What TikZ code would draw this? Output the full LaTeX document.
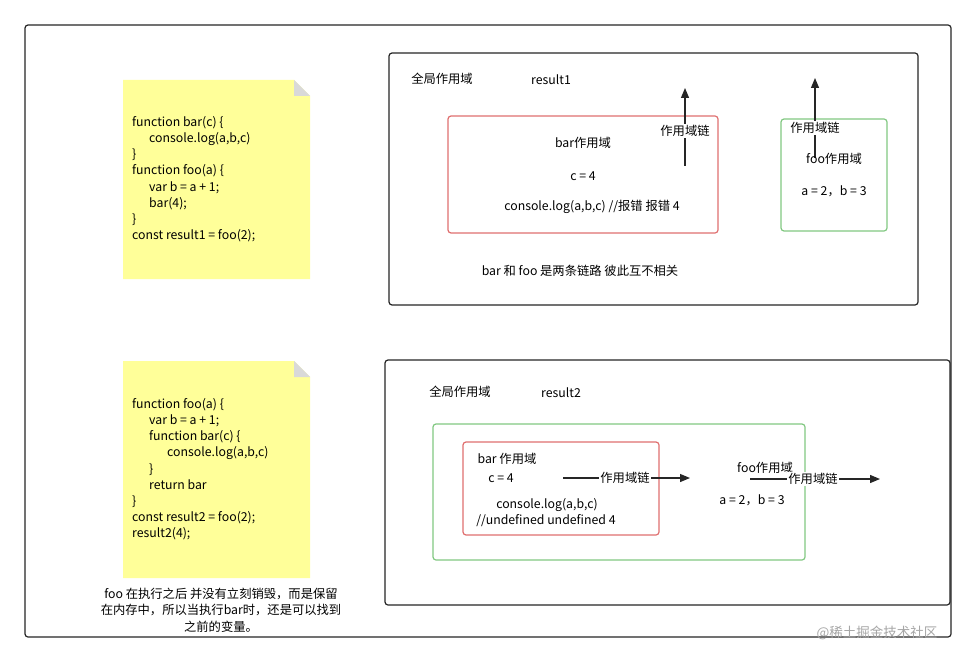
\documentclass[tikz,border=0pt]{standalone}
\usepackage{fontspec}
\setmainfont{Noto Sans CJK SC}
\usetikzlibrary{arrows.meta}
\definecolor{noteY}{HTML}{FFFF99}
\definecolor{redB}{HTML}{E07070}
\definecolor{greenB}{HTML}{82C882}
\begin{document}
\begin{tikzpicture}[x=1pt,y=-1pt,
  txt/.style={inner sep=1pt,font=\fontsize{12.3}{14}\selectfont},
  frame/.style={draw=black!85,line width=1.2pt,rounded corners=3pt},
  redbox/.style={draw=redB,line width=1.2pt,rounded corners=3pt},
  greenbox/.style={draw=greenB,line width=1.2pt,rounded corners=3pt},
  arr/.style={-{Triangle[length=10pt,width=8pt]},line width=1.2pt,black!85},
  lab/.style={txt,fill=white,inner sep=1pt},
  code/.style={txt,align=left,anchor=north west,font=\fontsize{12.3}{16.2}\selectfont}]
\useasboundingbox (0,0) rectangle (976,663);
\fill[white] (0,0) rectangle (976,663);
\draw[frame] (25,25) rectangle (951,637);
% note 1
\fill[noteY] (123,80) -- (294,80) -- (310,96) -- (310,279) -- (123,279) -- cycle;
\fill[black!15] (294,80) -- (294,96) -- (310,96) -- cycle;
\node[code] (c1) at (131,115) {function bar(c) \{\\\hspace*{17pt}console.log(a,b,c)\\\}\\function foo(a) \{\\\hspace*{17pt}var b = a + 1;\\\hspace*{17pt}bar(4);\\\}\\const result1 = foo(2);};
% note 2
\fill[noteY] (123,361) -- (294,361) -- (310,377) -- (310,578) -- (123,578) -- cycle;
\fill[black!15] (294,361) -- (294,377) -- (310,377) -- cycle;
\node[code] (c2) at (131,397) {function foo(a) \{\\\hspace*{17pt}var b = a + 1;\\\hspace*{17pt}function bar(c) \{\\\hspace*{35pt}console.log(a,b,c)\\\hspace*{17pt}\}\\\hspace*{17pt}return bar\\\}\\const result2 = foo(2);\\result2(4);};
\node[txt,align=center,font=\fontsize{12.3}{16.5}\selectfont] (cap) at (221,610) {foo 在执行之后 并没有立刻销毁，而是保留\\在内存中，所以当执行bar时，还是可以找到\\之前的变量。};
% top box
\draw[frame] (389,53) rectangle (918,305);
\node[txt] (g1) at (442,79) {全局作用域};
\node[txt] (r1) at (551,80) {result1};
\draw[redbox] (448,116) rectangle (718,233);
\node[txt] (b1) at (583,143) {bar作用域};
\node[txt] (c4) at (583,176) {c = 4};
\node[txt] (log1) at (592,207) {console.log(a,b,c) //报错 报错 4};
\coordinate (a1s) at (685,166);
\coordinate (a1e) at (685,88);
\draw[arr] (a1s) -- (a1e);
\node[lab] (l1) at (685,131) {作用域链};
\draw[greenbox] (781,119) rectangle (887,231);
\coordinate (a2s) at (815,158);
\coordinate (a2e) at (815,78);
\draw[arr] (a2s) -- (a2e);
\node[lab] (l2) at (815,128) {作用域链};
\node[txt] (f1) at (834,159) {foo作用域};
\node[txt] (ab1) at (834,191) {a = 2，b = 3};
\node[txt] (note) at (580,271) {bar 和 foo 是两条链路 彼此互不相关};
% bottom box
\draw[frame] (385,360) rectangle (950,605);
\node[txt] (g2) at (460,392) {全局作用域};
\node[txt] (r2) at (561,393) {result2};
\draw[greenbox] (433,424) rectangle (805,560);
\draw[redbox] (463,442) rectangle (659,535);
\node[txt] (b2) at (507,459) {bar 作用域};
\node[txt] (c42) at (501,478) {c = 4};
\node[txt] (log2) at (547,505) {console.log(a,b,c)};
\node[txt] (und) at (546,521) {//undefined undefined 4};
\coordinate (a3s) at (563,478);
\coordinate (a3e) at (690,478);
\draw[arr] (a3s) -- (a3e);
\node[lab] (l3) at (625,478) {作用域链};
\node[txt] (f2) at (765,468) {foo作用域};
\node[txt] (ab2) at (752,500) {a = 2，b = 3};
\coordinate (a4s) at (750,479);
\coordinate (a4e) at (880,479);
\draw[arr] (a4s) -- (a4e);
\node[lab] (l4) at (813,479) {作用域链};
\node[txt,text=black!35,font=\fontsize{13.5}{15}\selectfont] (wm) at (877,633) {@稀土掘金技术社区};
\end{tikzpicture}
\end{document}
